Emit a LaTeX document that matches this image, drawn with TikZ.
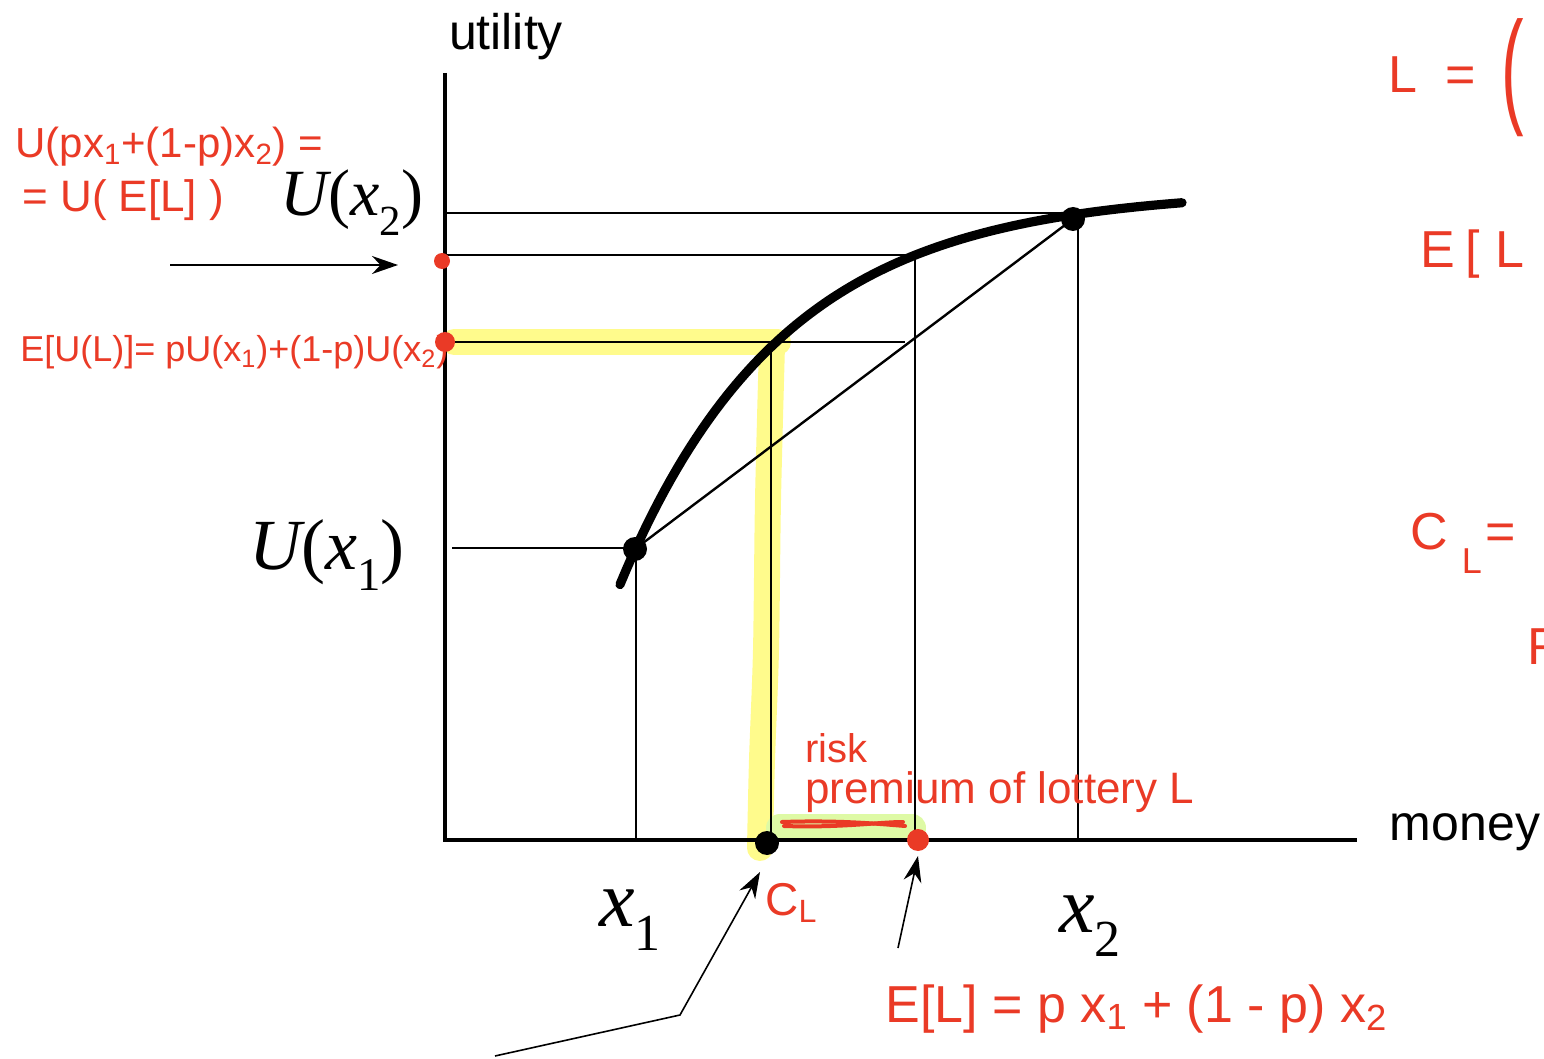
\documentclass[tikz,border=0pt]{standalone}
\usepackage{fontspec}
\setmainfont{Liberation Sans}
\newfontfamily\tms{Liberation Serif}
\usepackage{graphicx}
\usetikzlibrary{arrows.meta}
\definecolor{ink}{RGB}{234,58,38}
\definecolor{hiyel}{RGB}{255,251,140}
\definecolor{higrn}{RGB}{222,250,165}
\newcommand{\sbs}[1]{\raisebox{-0.3em}{\scalebox{0.65}{\upshape #1}}}
\newcommand{\ulab}[2]{{\tms\itshape #1\upshape(\itshape x\sbs{#2}\upshape)}}
\newcommand{\xlab}[1]{{\tms\itshape x\sbs{#1}}}
\begin{document}
\begin{tikzpicture}[x=0.5pt,y=-0.5pt,
  thinline/.style={line width=0.9pt},
  axisline/.style={line width=1.6pt},
  ucurve/.style={line width=4.6pt,line cap=round},
  bdot/.style={circle,fill=black,inner sep=0pt,minimum size=12pt},
  rdot/.style={circle,fill=ink,inner sep=0pt,minimum size=9pt},
  hand/.style={text=ink,inner sep=0pt,anchor=base west},
  sanslbl/.style={font=\fontsize{25}{28}\selectfont,inner sep=0pt},
  ptr/.style={line width=0.8pt,-{Stealth[length=13pt,width=9pt]}},
  yelband/.style={line width=13pt,draw=hiyel,line cap=round},
  grnband/.style={line width=14pt,draw=higrn,line cap=round},
  redstroke/.style={line width=2pt,draw=ink,line cap=round},
]
\useasboundingbox (0,0) rectangle (1544,1059);
\clip (0,0) rectangle (1544,1059);

% coordinates
\coordinate (O) at (445,840);
\coordinate (Ytop) at (445,73);
\coordinate (Xend) at (1357,840);
\coordinate (hA1) at (445,213);  \coordinate (hA2) at (1075,213);
\coordinate (hB1) at (445,255);  \coordinate (hB2) at (915,255);
\coordinate (hC1) at (445,342);  \coordinate (hC2) at (905,342);
\coordinate (hD1) at (452,548);  \coordinate (hD2) at (635,548);
\coordinate (vA1) at (636,549);  \coordinate (vA2) at (636,840);
\coordinate (vB1) at (915,255);  \coordinate (vB2) at (915,840);
\coordinate (vC1) at (1078,219); \coordinate (vC2) at (1078,840);
\coordinate (vD1) at (771,345);  \coordinate (vD2) at (771,840);

% highlights
\draw[yelband] (454,342) -- (778,342);
\draw[yelband] plot[smooth] coordinates {(772,345) (768,500) (766,650) (762,760) (760,848)};
\draw[grnband] (780,828) -- (912,828);

% thin guide lines
\draw[thinline] (hA1) -- (hA2);
\draw[thinline] (hB1) -- (hB2);
\draw[thinline] (hC1) -- (hC2);
\draw[thinline] (hD1) -- (hD2);
\draw[thinline] (vA1) -- (vA2);
\draw[thinline] (vB1) -- (vB2);
\draw[thinline] (vC1) -- (vC2);
\draw[thinline] (vD1) -- (vD2);

% axes
\draw[axisline] (Ytop) -- (O) -- (Xend);

% utility curve
\draw[ucurve] plot[domain=620:1182,samples=90] (\x,{190+360*exp(-0.0061*(\x-635))});

% dots and chord
\node[bdot] (P1) at (635,549) {};
\node[bdot] (P2) at (1073,219) {};
\node[bdot] (CL) at (767,843) {};
\draw[line width=1.2pt] (P1.center) -- (P2.center);

% labels
\node[sanslbl] (ulabel) at (506,37) {utility};
\node[sanslbl] (mlabel) at (1465,832) {money};
\node[inner sep=0pt,font=\fontsize{33}{36}\selectfont] (Ux2) at (352,203) {\ulab{U}{2}};
\node[inner sep=0pt,font=\fontsize{36}{40}\selectfont] (Ux1) at (327,555) {\ulab{U}{1}};
\node[inner sep=0pt,font=\fontsize{40}{44}\selectfont] (x1) at (630,920) {\xlab{1}};
\node[inner sep=0pt,font=\fontsize{40}{44}\selectfont] (x2) at (1090,926) {\xlab{2}};

% pointer arrows
\coordinate (a1s) at (170,265);
\coordinate (a1e) at (398,265);
\draw[ptr] (a1s) -- (a1e);
\coordinate (a2s) at (495,1056);
\coordinate (a2m) at (680,1015);
\coordinate (a2e) at (760,872);
\draw[ptr] (a2s) -- (a2m) -- (a2e);
\coordinate (a3s) at (898,948);
\coordinate (a3e) at (918,856);
\draw[ptr] (a3s) -- (a3e);

% red marks
\draw[redstroke] (782,822) .. controls (840,820) and (880,824) .. (905,826);
\draw[redstroke] (784,826) .. controls (840,828) and (880,822) .. (903,822);
\node[rdot,minimum size=8pt] (r1) at (442,261) {};
\node[rdot,minimum size=10pt] (r2) at (445,342) {};
\node[rdot,minimum size=11pt] (r3) at (918,840) {};

% red handwritten notes
\node[hand,font=\fontsize{21}{24}\selectfont] (n1) at (15,158) {U(px\textsubscript{1}+(1-p)x\textsubscript{2}) =};
\node[hand,font=\fontsize{22}{24}\selectfont] (n2) at (22,212) {= U( E[L] )};
\node[hand,font=\fontsize{18}{20}\selectfont] (n3) at (20,362) {E[U(L)]= pU(x\textsubscript{1})+(1-p)U(x\textsubscript{2})};
\node[hand,font=\fontsize{20}{22}\selectfont] (n4) at (805,762) {risk};
\node[hand,font=\fontsize{22}{24}\selectfont] (n5) at (805,803) {premium of lottery L};
\node[hand,font=\fontsize{23}{24}\selectfont] (n6) at (765,915) {C\textsubscript{L}};
\node[hand,font=\fontsize{26}{28}\selectfont] (n7) at (885,1022) {E[L] = p x\textsubscript{1} + (1 - p) x\textsubscript{2}};
\node[hand,font=\fontsize{26}{28}\selectfont] (n8) at (1388,93) {L\hspace{14pt}=\hspace{13pt}\raisebox{-8.7pt}{\scalebox{1.3}[2.44]{(}}};
\node[hand,font=\fontsize{26}{28}\selectfont] (n9) at (1420,268) {E\hspace{5pt}[\hspace{8pt}L\hspace{20pt}]};
\node[hand,font=\fontsize{26}{28}\selectfont] (n10) at (1410,550) {C\hspace{7pt}\raisebox{-12pt}{\fontsize{18}{20}\selectfont L}\hspace{2pt}=};
\node[hand,font=\fontsize{26}{28}\selectfont] (n11) at (1527,664) {R};
\end{tikzpicture}
\end{document}
